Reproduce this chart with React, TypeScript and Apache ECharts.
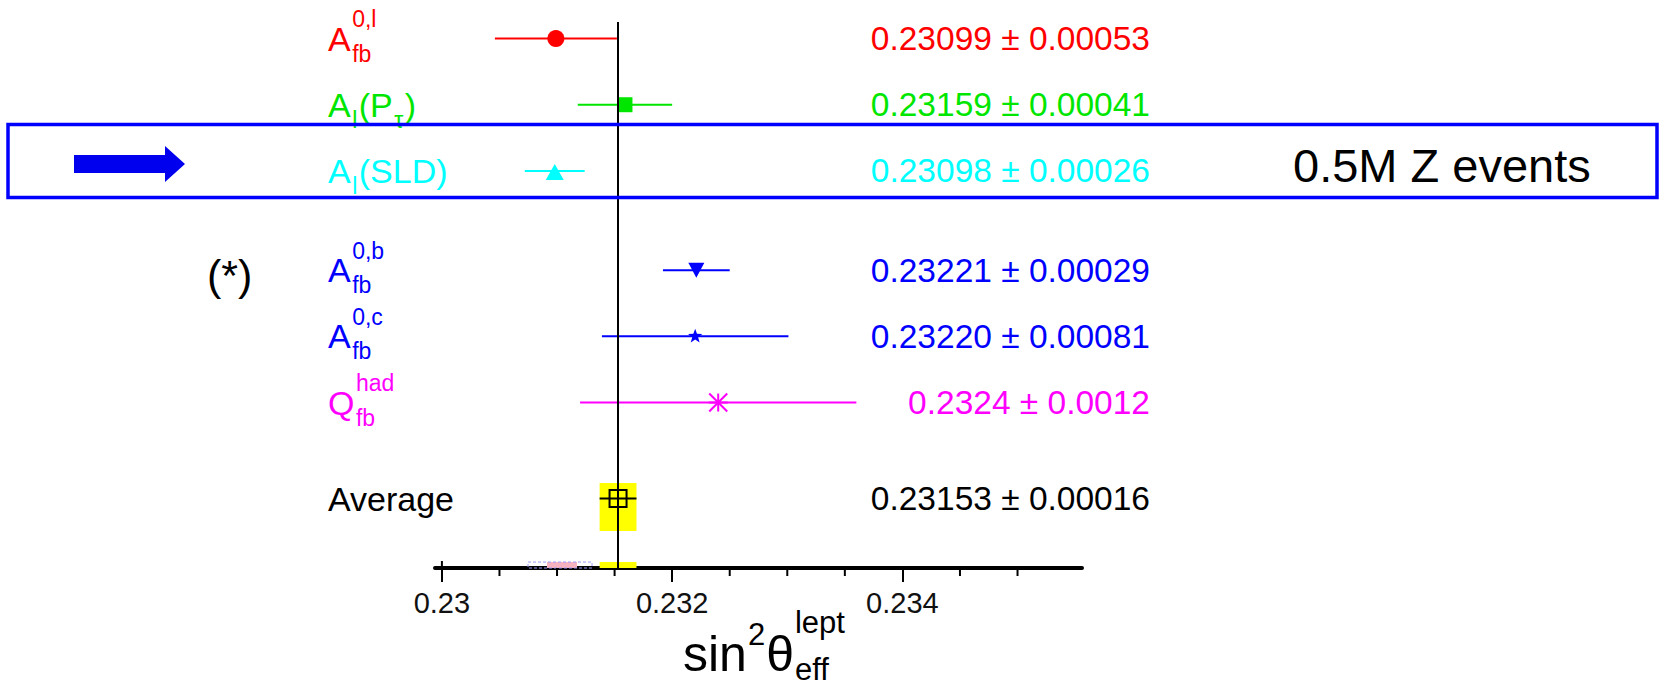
import React, { useEffect, useRef } from "react";
import * as echarts from "echarts";

const FONT = '"Liberation Sans", Arial, Helvetica, sans-serif';

// ---- data ----
const centralValues = [0.23099, 0.23159, 0.23098, 0.23221, 0.2322, 0.2324, 0.23153];
const errors = [0.00053, 0.00041, 0.00026, 0.00029, 0.00081, 0.0012, 0.00016];
const decimals = [5, 5, 5, 5, 5, 4, 5];
const rowPositions = [0, 1, 2, 3.5, 4.5, 5.5, 6.95];
const rowColors = ["#ff0000", "#00e600", "#00ffff", "#0000ff", "#0000ff", "#ff00ff", "#000000"];
const rowMarkers = ["circle", "square", "triangle", "triangleDown", "star", "asterisk", "openSquare"];
type Seg = { t?: string; sup?: string; sub?: string };
const rowLabels: Seg[][] = [
  [{ t: "A" }, { sup: "0,l", sub: "fb" }],
  [{ t: "A" }, { sub: "l" }, { t: "(P" }, { sub: "τ" }, { t: ")" }],
  [{ t: "A" }, { sub: "l" }, { t: "(SLD)" }],
  [{ t: "A" }, { sup: "0,b", sub: "fb" }],
  [{ t: "A" }, { sup: "0,c", sub: "fb" }],
  [{ t: "Q" }, { sup: "had", sub: "fb" }],
  [{ t: "Average" }],
];

const averageValue = 0.23153;
const averageError = 0.00016;
const yellowBandRows = [
  [6.716, 7.44],
  [7.91, 8.0],
];
const bottomStripRow = [7.91, 8.0];
const pinkStrip = [0.230913, 0.231174];
const blueStrip = [0.230748, 0.231304];

const yMin = -0.25;
const yMax = 8;
const xMin = 0.22994;
const xMax = 0.23556;
const majorTicks = [0.23, 0.232, 0.234];
const tickLabels = ["0.23", "0.232", "0.234"];
const minorTicks = [0.2305, 0.231, 0.2315, 0.2325, 0.233, 0.2335, 0.2345, 0.235];
const upTicks = [0.23];

const highlightNote = "0.5M Z events";
const footnoteMark = "(*)";

// ---- helpers ----
let measureCtx: CanvasRenderingContext2D | null = null;
function textWidth(s: string, size: number): number {
  if (!measureCtx) measureCtx = document.createElement("canvas").getContext("2d");
  if (!measureCtx) return s.length * size * 0.55;
  measureCtx.font = `${size}px ${FONT}`;
  return measureCtx.measureText(s).width;
}

function txt(text: string, x: number, y: number, size: number, color: string, align = "left") {
  return {
    type: "text",
    x,
    y,
    style: {
      text,
      fill: color,
      font: `${size}px ${FONT}`,
      align,
      textAlign: align,
      verticalAlign: "middle",
      textVerticalAlign: "middle",
    },
  };
}

function marker(kind: string, cx: number, cy: number, color: string): any {
  switch (kind) {
    case "circle":
      return { type: "circle", shape: { cx, cy, r: 8.5 }, style: { fill: color } };
    case "square":
      return { type: "rect", shape: { x: cx - 7.5, y: cy - 7.5, width: 15, height: 15 }, style: { fill: color } };
    case "triangle":
      return {
        type: "polygon",
        shape: { points: [[cx, cy - 7], [cx + 9, cy + 9], [cx - 9, cy + 9]] },
        style: { fill: color },
      };
    case "triangleDown":
      return {
        type: "polygon",
        shape: { points: [[cx - 8, cy - 7.5], [cx + 8, cy - 7.5], [cx, cy + 7.5]] },
        style: { fill: color },
      };
    case "star": {
      const pts: number[][] = [];
      for (let k = 0; k < 10; k++) {
        const r = k % 2 === 0 ? 7.5 : 3.1;
        const a = -Math.PI / 2 + (k * Math.PI) / 5;
        pts.push([cx + r * Math.cos(a), cy + r * Math.sin(a)]);
      }
      return { type: "polygon", shape: { points: pts }, style: { fill: color } };
    }
    case "asterisk": {
      const s = { stroke: color, lineWidth: 2 };
      return {
        type: "group",
        children: [
          { type: "line", shape: { x1: cx - 9.5, y1: cy, x2: cx + 9.5, y2: cy }, style: s },
          { type: "line", shape: { x1: cx, y1: cy - 9, x2: cx, y2: cy + 9 }, style: s },
          { type: "line", shape: { x1: cx - 9, y1: cy - 9, x2: cx + 9, y2: cy + 9 }, style: s },
          { type: "line", shape: { x1: cx - 9, y1: cy + 9, x2: cx + 9, y2: cy - 9 }, style: s },
        ],
      };
    }
    default:
      return {
        type: "rect",
        shape: { x: cx - 8.5, y: cy - 8.5, width: 17, height: 17 },
        style: { fill: "none", stroke: color, lineWidth: 2 },
      };
  }
}

export default function App() {
  const ref = useRef<HTMLDivElement>(null);

  useEffect(() => {
    document.body.style.margin = "0";
    if (!ref.current) return;
    const chart = echarts.init(ref.current, undefined, { renderer: "svg" });

    const rowData = centralValues.map((v, i) => [v, rowPositions[i], errors[i], i]);
    const bandData: number[][] = [
      ...yellowBandRows.map((r) => [averageValue - averageError, averageValue + averageError, r[0], r[1], 0]),
      [pinkStrip[0], pinkStrip[1], bottomStripRow[0], bottomStripRow[1], 1],
      [blueStrip[0], blueStrip[1], bottomStripRow[0], bottomStripRow[1], 2],
    ];
    const tickData: number[][] = [
      ...minorTicks.map((v) => [v, yMax, 8]),
      ...upTicks.map((v) => [v, yMax, -7]),
    ];

    const LABEL_X = 328;
    const VALUE_RIGHT = 1150;

    // axis title pieces
    const tX = 683;
    const mainSize = 50;
    const smallSize = 31;
    const wSin = textWidth("sin", mainSize);
    const w2 = textWidth("2", smallSize);
    const wTheta = textWidth("θ", mainSize);
    const titleEls = [
      txt("sin", tX, 654, mainSize, "#000"),
      txt("2", tX + wSin + 1, 634, smallSize, "#000"),
      txt("θ", tX + wSin + w2 + 2, 654, mainSize, "#000"),
      txt("lept", tX + wSin + w2 + wTheta + 3, 622, smallSize, "#000"),
      txt("eff", tX + wSin + w2 + wTheta + 3, 669, smallSize, "#000"),
    ];

    const option: any = {
      animation: false,
      backgroundColor: "#ffffff",
      grid: { left: 435, right: 584, top: 22, bottom: 120, containLabel: false },
      xAxis: {
        type: "value",
        min: xMin,
        max: xMax,
        position: "bottom",
        axisLine: { show: true, onZero: false, lineStyle: { color: "#000", width: 4 } },
        axisTick: { show: true, customValues: majorTicks, length: 14, lineStyle: { color: "#000", width: 2 } },
        axisLabel: {
          show: true,
          customValues: majorTicks,
          margin: 20,
          color: "#111",
          fontSize: 29,
          fontFamily: FONT,
          formatter: (v: number) => {
            const k = majorTicks.findIndex((m) => Math.abs(m - v) < 1e-9);
            return k >= 0 ? tickLabels[k] : "";
          },
        },
        splitLine: { show: false },
      },
      yAxis: { type: "value", min: yMin, max: yMax, inverse: true, show: false },
      series: [
        {
          type: "custom",
          name: "bands",
          z: 1,
          clip: false,
          data: bandData,
          encode: { x: [0, 1], y: [2, 3] },
          renderItem: (params: any, api: any) => {
            const p0 = api.coord([api.value(0), api.value(2)]);
            const p1 = api.coord([api.value(1), api.value(3)]);
            const kind = api.value(4);
            const shape = {
              x: Math.min(p0[0], p1[0]),
              y: Math.min(p0[1], p1[1]),
              width: Math.abs(p1[0] - p0[0]),
              height: Math.abs(p1[1] - p0[1]),
            };
            let style: any = { fill: "#ffff00" };
            if (kind === 1) style = { fill: "#f7b2bf" };
            if (kind === 2) style = { fill: "none", stroke: "#9a9aff", lineWidth: 1, lineDash: [3, 2] };
            return { type: "rect", shape, style };
          },
        },
        {
          type: "custom",
          name: "minorTicks",
          z: 2,
          clip: false,
          data: tickData,
          encode: { x: 0, y: 1 },
          renderItem: (params: any, api: any) => {
            const p = api.coord([api.value(0), api.value(1)]);
            const len = api.value(2);
            return {
              type: "line",
              shape: { x1: p[0], y1: p[1], x2: p[0], y2: p[1] + len },
              style: { stroke: "#000", lineWidth: 2 },
            };
          },
        },
        {
          type: "custom",
          name: "measurements",
          z: 3,
          clip: false,
          data: rowData,
          encode: { x: 0, y: 1 },
          renderItem: (params: any, api: any) => {
            const v = api.value(0);
            const p = api.value(1);
            const e = api.value(2);
            const i = api.value(3);
            const c = api.coord([v, p]);
            const lo = api.coord([v - e, p]);
            const hi = api.coord([v + e, p]);
            const color = rowColors[i];
            return {
              type: "group",
              children: [
                { type: "line", shape: { x1: lo[0], y1: c[1], x2: hi[0], y2: c[1] }, style: { stroke: color, lineWidth: 2 } },
                marker(rowMarkers[i], c[0], c[1], color),
              ],
            };
          },
          markLine: {
            silent: true,
            precision: 6,
            symbol: ["none", "none"],
            label: { show: false },
            lineStyle: { color: "#000", width: 2, type: "solid" },
            data: [{ xAxis: averageValue }],
          },
        },
        {
          type: "custom",
          name: "labels",
          z: 4,
          clip: false,
          data: rowData,
          encode: { x: 0, y: 1 },
          renderItem: (params: any, api: any) => {
            const i = api.value(3);
            const y = api.coord([xMin, api.value(1)])[1];
            const color = rowColors[i];
            const children: any[] = [];
            let x = LABEL_X;
            for (const seg of rowLabels[i]) {
              if (seg.t) {
                children.push(txt(seg.t, x, y, 34, color));
                x += textWidth(seg.t, 34);
              } else {
                const w = Math.max(seg.sup ? textWidth(seg.sup, 23) : 0, seg.sub ? textWidth(seg.sub, 23) : 0);
                if (seg.sup) children.push(txt(seg.sup, x + 1.5, y - 19.5, 23, color));
                if (seg.sub) children.push(txt(seg.sub, x + 1.5, y + 15, 23, color));
                x += w + 3;
              }
            }
            const d = decimals[i];
            const valueText = `${centralValues[i].toFixed(d)} ± ${errors[i].toFixed(d)}`;
            children.push(txt(valueText, VALUE_RIGHT, y, 33.5, color, "right"));
            return { type: "group", children };
          },
        },
      ],
      graphic: [
        {
          type: "rect",
          z: 10,
          shape: { x: 8, y: 124.5, width: 1649, height: 73 },
          style: { fill: "none", stroke: "#0000ff", lineWidth: 3.5 },
        },
        {
          type: "polygon",
          z: 10,
          shape: {
            points: [
              [74, 155],
              [165, 155],
              [165, 146],
              [185, 164],
              [165, 182],
              [165, 173],
              [74, 173],
            ],
          },
          style: { fill: "#0000ee" },
        },
        { ...txt(highlightNote, 1293, 165, 47, "#000"), z: 10 },
        { ...txt(footnoteMark, 207, 275, 43, "#000"), z: 10 },
        ...titleEls.map((el) => ({ ...el, z: 10 })),
      ],
    };

    chart.setOption(option);
    return () => chart.dispose();
  }, []);

  return (
    <div
      ref={ref}
      style={{ position: "fixed", left: 0, top: 0, width: 1666, height: 688, background: "#fff" }}
    />
  );
}
